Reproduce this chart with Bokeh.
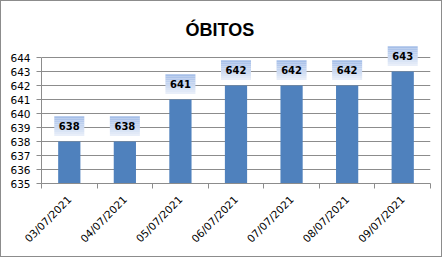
from bokeh.plotting import figure
from bokeh.models import Range1d, FixedTicker
from bokeh.core.properties import value
from bokeh.embed import file_html
from bokeh.resources import INLINE
import math

dates = ["03/07/2021", "04/07/2021", "05/07/2021", "06/07/2021",
         "07/07/2021", "08/07/2021", "09/07/2021"]
obitos = [638, 638, 641, 642, 642, 642, 643]
y_ticks = [635, 636, 637, 638, 639, 640, 641, 642, 643, 644]

GRID = "#8c8c8c"
FONT = "DejaVu Sans"
PX = 14.0  # pixels per unit
extra = 12 / PX

p = figure(width=442, height=257, output_backend="svg", toolbar_location=None,
           x_range=Range1d(0, len(dates)),
           y_range=Range1d(y_ticks[0], y_ticks[-1] + extra),
           min_border_left=40, min_border_right=13, min_border_top=44, min_border_bottom=75)
p.styles = {"border": "1px solid #8c8c8c"}
p.outline_line_color = None
p.background_fill_color = "white"
p.border_fill_color = "white"

p.title.text = "ÓBITOS"
p.title.align = "left"
p.title.text_font = "Liberation Sans"
p.title.text_font_style = "bold"
p.title.text_font_size = "18px"
p.title.text_color = "black"
p.title.offset = 144
p.title.standoff = 11

xs = [i + 0.5 for i in range(len(dates))]

p.vbar(x=xs, top=obitos, bottom=y_ticks[0], width=0.4, fill_color="#4F81BD", line_color=None)

# gradient label boxes
n = 10
gap = 0.4
h = 1.4
top_c = (166, 191, 232)
bot_c = (232, 238, 249)
for k in range(n):
    t = k / (n - 1)
    c = tuple(int(round(top_c[j] + (bot_c[j] - top_c[j]) * t)) for j in range(3))
    col = "#%02x%02x%02x" % c
    tops = [v + gap + h - h * k / n for v in obitos]
    bots = [v + gap + h - h * (k + 1) / n for v in obitos]
    p.quad(left=[x - 0.27 for x in xs], right=[x + 0.27 for x in xs], top=tops, bottom=bots,
           fill_color=col, line_color=None)

p.text(x=xs, y=[v + gap + h / 2 for v in obitos], text=[str(v) for v in obitos],
       text_font=value(FONT), text_font_style="bold", text_font_size="10px",
       text_align="center", text_baseline="middle", text_color="black")

# axes
p.xgrid.visible = False
p.ygrid.ticker = FixedTicker(ticks=y_ticks)
p.ygrid.grid_line_color = GRID
p.ygrid.grid_line_width = 1

p.yaxis.ticker = FixedTicker(ticks=y_ticks)
p.yaxis.bounds = (y_ticks[0], y_ticks[-1])
p.yaxis.axis_line_color = GRID
p.yaxis.major_tick_line_color = GRID
p.yaxis.major_tick_out = 5
p.yaxis.major_tick_in = 0
p.yaxis.minor_tick_line_color = None
p.yaxis.major_label_standoff = 6
p.yaxis.major_label_text_font = FONT
p.yaxis.major_label_text_font_size = "10.5px"
p.yaxis.major_label_text_color = "black"

p.xaxis.ticker = FixedTicker(ticks=xs, minor_ticks=list(range(len(dates) + 1)))
p.xaxis.major_label_overrides = {x: d for x, d in zip(xs, dates)}
p.xaxis.axis_line_color = GRID
p.xaxis.major_tick_line_color = None
p.xaxis.major_tick_out = 0
p.xaxis.major_tick_in = 0
p.xaxis.minor_tick_line_color = GRID
p.xaxis.minor_tick_out = 5
p.xaxis.minor_tick_in = 0
p.xaxis.major_label_orientation = math.pi / 4
p.xaxis.major_label_standoff = 9
p.xaxis.major_label_text_font = FONT
p.xaxis.major_label_text_font_size = "10.5px"
p.xaxis.major_label_text_color = "black"

open("out.html", "w").write(file_html(p, INLINE))
